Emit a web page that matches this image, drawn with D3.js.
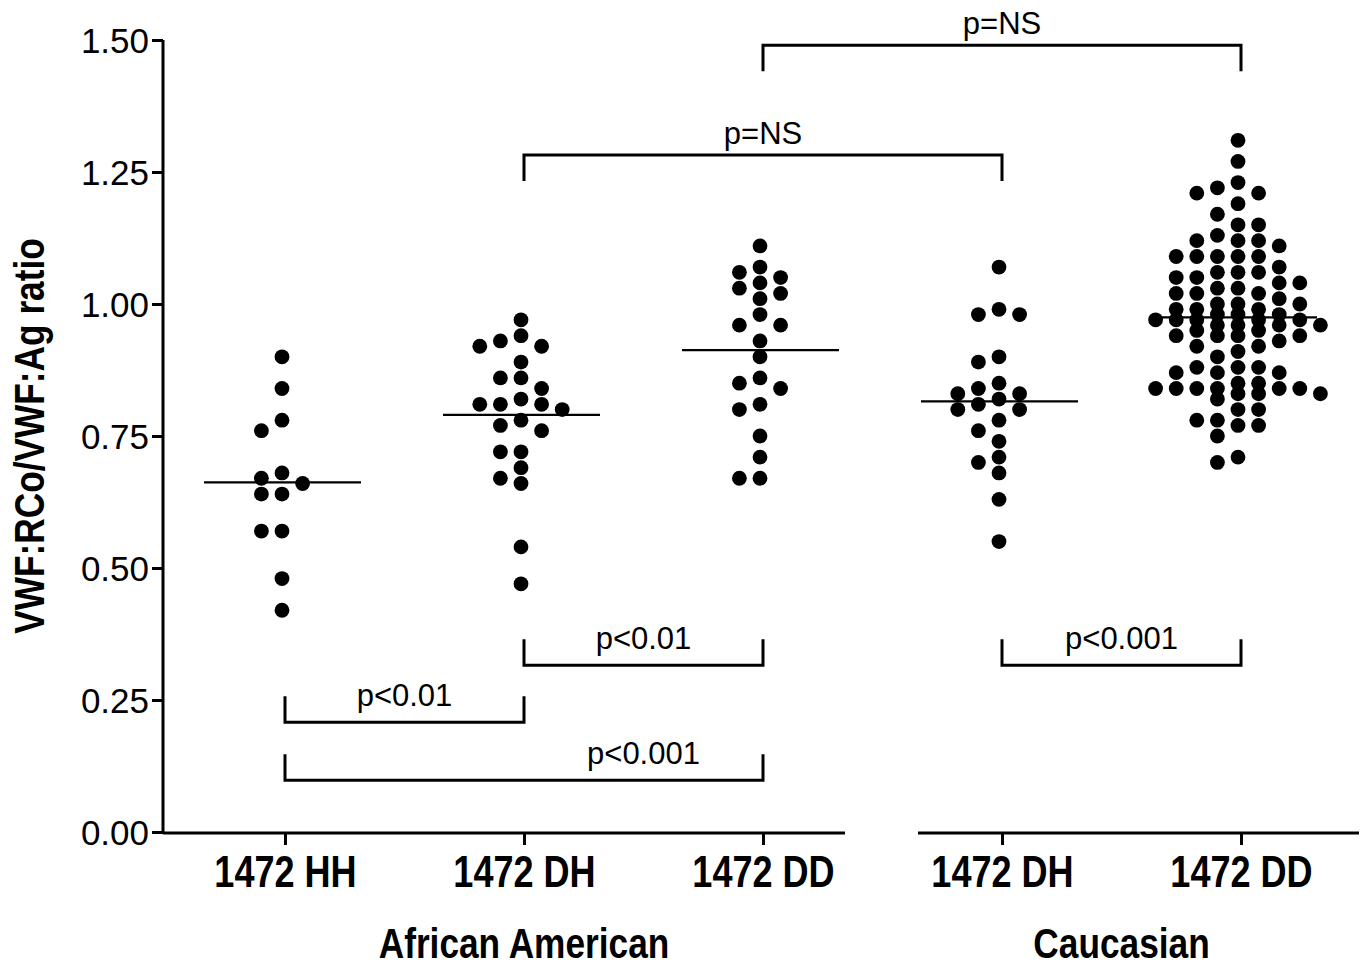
<!DOCTYPE html>
<html>
<head>
<meta charset="utf-8">
<script src="https://cdn.jsdelivr.net/npm/d3@7"></script>
<style>
  body { margin: 0; background: #fff; }
  svg text { font-family: "Liberation Sans", Arial, sans-serif; fill: #000; }
  svg text.narrow { font-weight: bold; }
</style>
</head>
<body>
<div id="chart"></div>
<script>
// categories along the x axis (two populations)
var groupKeys = ["aa-hh", "aa-dh", "aa-dd", "c-dh", "c-dd"];
var groupLabels = ["1472 HH", "1472 DH", "1472 DD", "1472 DH", "1472 DD"];
var populations = [
    { name: "African American", first: 0, last: 2 },
    { name: "Caucasian", first: 3, last: 4 }
];

// VWF:RCo/VWF:Ag ratio
var aaHH = [0.90, 0.84, 0.78, 0.76, 0.68, 0.67, 0.66, 0.64, 0.64, 0.57, 0.57, 0.48, 0.42];
var aaDH = [0.97, 0.94, 0.93, 0.92, 0.92, 0.89, 0.86, 0.86, 0.84, 0.82, 0.81, 0.81,
            0.81, 0.80, 0.78, 0.77, 0.76, 0.72, 0.72, 0.69, 0.67, 0.66, 0.54, 0.47];
var aaDD = [1.11, 1.07, 1.06, 1.05, 1.04, 1.03, 1.02, 1.01, 0.98, 0.96, 0.96, 0.93,
            0.90, 0.86, 0.85, 0.84, 0.81, 0.80, 0.75, 0.71, 0.67, 0.67];
var cDH = [1.07, 0.99, 0.98, 0.98, 0.90, 0.89, 0.85, 0.84, 0.83, 0.83, 0.82, 0.81,
           0.80, 0.80, 0.78, 0.76, 0.74, 0.71, 0.70, 0.68, 0.63, 0.55];
var cDD = [1.31, 1.27, 1.23, 1.22, 1.21, 1.21, 1.19, 1.17, 1.15, 1.15, 1.13, 1.12,
           1.12, 1.12, 1.11, 1.09, 1.09, 1.09, 1.09, 1.09, 1.07, 1.06, 1.06, 1.06,
           1.05, 1.05, 1.04, 1.04, 1.03, 1.03, 1.02, 1.02, 1.02, 1.01, 1.00, 1.00,
           1.00, 0.99, 0.99, 0.99, 0.98, 0.98, 0.98, 0.97, 0.97, 0.97, 0.97, 0.97,
           0.96, 0.96, 0.96, 0.96, 0.95, 0.95, 0.94, 0.94, 0.94, 0.94, 0.93, 0.92,
           0.92, 0.91, 0.90, 0.88, 0.88, 0.88, 0.87, 0.87, 0.87, 0.85, 0.85, 0.84,
           0.84, 0.84, 0.84, 0.84, 0.84, 0.83, 0.83, 0.83, 0.82, 0.80, 0.80, 0.78,
           0.78, 0.77, 0.77, 0.75, 0.71, 0.70];
var seriesValues = [aaHH, aaDH, aaDD, cDH, cDD];

var yTicks = [0, 0.25, 0.5, 0.75, 1.0, 1.25, 1.5];

// significance brackets: category indices, level on the value axis
var brackets = [
    { from: 2, to: 4, level: 1.49,  dir: "down", label: "p=NS",    labelAt: 3 },
    { from: 1, to: 3, level: 1.282, dir: "down", label: "p=NS",    labelAt: 2 },
    { from: 1, to: 2, level: 0.316, dir: "up",   label: "p<0.01",  labelAt: 1.5 },
    { from: 3, to: 4, level: 0.316, dir: "up",   label: "p<0.001", labelAt: 3.5 },
    { from: 0, to: 1, level: 0.208, dir: "up",   label: "p<0.01",  labelAt: 0.5 },
    { from: 0, to: 2, level: 0.098, dir: "up",   label: "p<0.001", labelAt: 1.5 }
];

var width = 1363,
    height = 966;

// bold labels in the figure use a condensed face; squeeze Liberation Sans Bold
var narrow = "scale(0.82,1)";

var svg = d3.select("#chart")
    .append("svg")
    .attr("width", width)
    .attr("height", height);

var y = d3.scaleLinear()
    .domain([0, 1.5])
    .range([832, 40]);

var x = d3.scalePoint()
    .domain(groupKeys)
    .range([285, 1241]);

// fractional category position (for labels between two columns)
function xAt(f) {
    return x(groupKeys[0]) + f * x.step();
}

// y axis
var yAxis = svg.append("g")
    .attr("transform", "translate(163,0)")
    .call(d3.axisLeft(y).tickValues(yTicks).tickFormat(d3.format(".2f")).tickSize(11).tickPadding(3));
yAxis.select(".domain").attr("stroke-width", 3).attr("d", "M0,40V833");
yAxis.selectAll(".tick line").attr("stroke-width", 3);
yAxis.selectAll(".tick text")
    .style("font-size", "35px")
    .attr("dy", "0.36em");

svg.append("text")
    .attr("class", "narrow")
    .attr("transform", "translate(44,436) rotate(-90) " + narrow)
    .attr("text-anchor", "middle")
    .style("font-size", "43px")
    .text("VWF:RCo/VWF:Ag ratio");

// x axis, broken in two segments
var segments = [
    [163, x(groupKeys[2]) + 82],
    [x(groupKeys[3]) - 84, 1359]
];
var xAxis = svg.append("g")
    .attr("transform", "translate(0,833)")
    .call(d3.axisBottom(x).tickSize(12).tickFormat(function (d, i) { return groupLabels[i]; }));
xAxis.select(".domain").remove();
xAxis.selectAll(".tick line").attr("stroke-width", 3);
xAxis.selectAll(".tick text")
    .attr("class", "narrow")
    .attr("y", 0)
    .attr("dy", 54)
    .attr("transform", narrow)
    .style("font-size", "44px");
xAxis.selectAll(".segment")
    .data(segments)
    .enter()
    .append("line")
    .attr("x1", function (d) { return d[0]; })
    .attr("x2", function (d) { return d[1]; })
    .attr("stroke", "#000")
    .attr("stroke-width", 3);

svg.selectAll(".population")
    .data(populations)
    .enter()
    .append("text")
    .attr("class", "narrow")
    .attr("transform", function (d) {
        var cx = (x(groupKeys[d.first]) + x(groupKeys[d.last])) / 2;
        return "translate(" + cx + ",958) " + narrow;
    })
    .attr("text-anchor", "middle")
    .style("font-size", "43px")
    .text(function (d) { return d.name; });

// column scatter: each dot goes to the nearest column that has room for it;
// crowded groups may squeeze in between columns before spreading wider
var colW = 20.6;
var fullCols = [0, -1, 1, -2, 2, -3, 3];
var packedCols = [0, -0.5, 0.5, -1, 1, -1.5, 1.5, -2, 2, -2.5, 2.5, -3, 3, -3.5, 3.5];
var outerCols = [-4, 4, -4.5, 4.5, -5, 5, -5.5, 5.5, -6, 6];

function swarm(values, cx) {
    var placed = [];
    function free(col, py, gapSame, gapHalf) {
        return placed.every(function (p) {
            var dc = Math.abs(p.col - col), dy = Math.abs(p.y - py);
            if (dc < 0.01) return dy >= gapSame;
            if (dc < 0.6) return dy >= gapHalf;
            return true;
        });
    }
    values.slice().sort(function (a, b) { return b - a; }).forEach(function (v) {
        var py = y(v);
        var col = fullCols.find(function (c) { return free(c, py, 13, 8); });
        if (col === undefined) col = packedCols.find(function (c) { return free(c, py, 10, 6); });
        if (col === undefined) col = outerCols.find(function (c) { return free(c, py, 10, 6); });
        if (col === undefined) col = 0;
        placed.push({ col: col, x: cx + col * colW, y: py, v: v });
    });
    return placed;
}

var groups = svg.selectAll(".group")
    .data(seriesValues)
    .enter()
    .append("g")
    .attr("class", "group");

groups.each(function (vals, i) {
    var g = d3.select(this);
    var cx = x(groupKeys[i]) - 3;
    var mean = d3.mean(vals);

    g.append("line")
        .attr("x1", cx - 78)
        .attr("x2", cx + 79)
        .attr("y1", y(mean))
        .attr("y2", y(mean))
        .attr("stroke", "#000")
        .attr("stroke-width", 2.2);

    g.selectAll("circle")
        .data(swarm(vals, cx))
        .enter()
        .append("circle")
        .attr("cx", function (d) { return d.x; })
        .attr("cy", function (d) { return d.y; })
        .attr("r", 7.4)
        .attr("fill", "#000");
});

// brackets
var legLength = 26;
var br = svg.selectAll(".bracket")
    .data(brackets)
    .enter()
    .append("g")
    .attr("class", "bracket");

br.append("path")
    .attr("fill", "none")
    .attr("stroke", "#000")
    .attr("stroke-width", 3)
    .attr("d", function (d) {
        var x1 = x(groupKeys[d.from]), x2 = x(groupKeys[d.to]);
        var ly = y(d.level);
        var ty = d.dir === "down" ? ly + legLength : ly - legLength;
        return "M" + x1 + "," + ty + "V" + ly + "H" + x2 + "V" + ty;
    });

br.append("text")
    .attr("x", function (d) { return xAt(d.labelAt); })
    .attr("y", function (d) { return y(d.level) - (d.dir === "down" ? 11 : 16); })
    .attr("text-anchor", "middle")
    .style("font-size", "31px")
    .text(function (d) { return d.label; });
</script>
</body>
</html>
